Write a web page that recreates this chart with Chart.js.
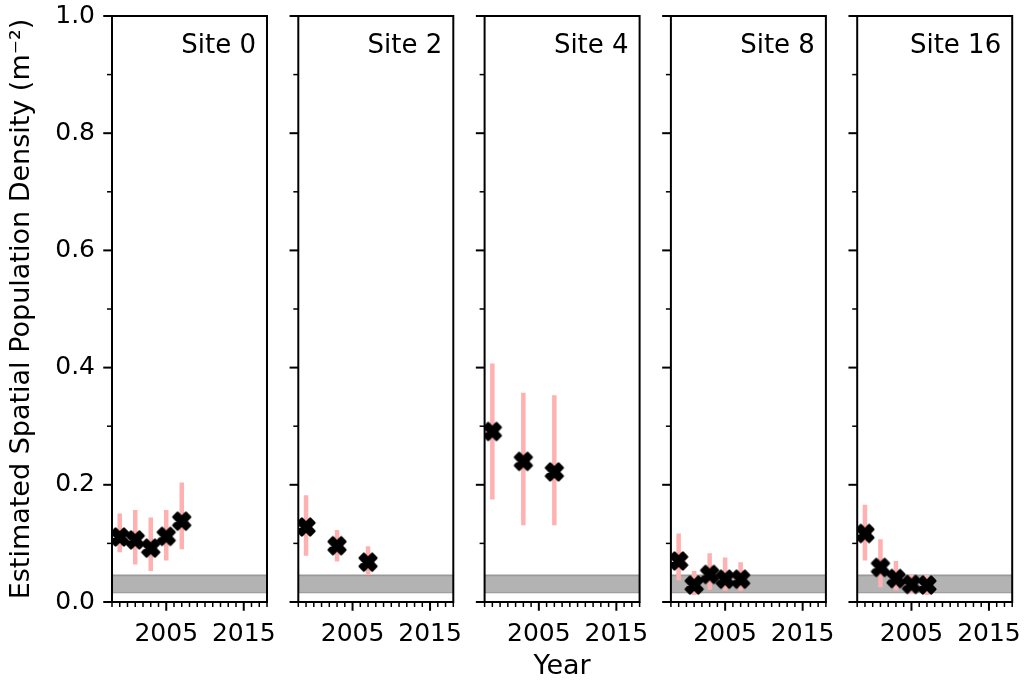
<!DOCTYPE html>
<html>
<head>
<meta charset="utf-8">
<script src="https://cdn.jsdelivr.net/npm/chart.js@4.4.1/dist/chart.umd.min.js"></script>
<style>
  html, body { margin: 0; padding: 0; background: #ffffff; }
  #wrap { position: relative; width: 1025px; height: 688px; overflow: hidden; background: #ffffff; }
  #wrap canvas { position: absolute; left: 0; top: 0; }
</style>
</head>
<body>
<div id="wrap"></div>
<script>
// ---- data -------------------------------------------------------------
const siteNames = ['Site 0', 'Site 2', 'Site 4', 'Site 8', 'Site 16'];

const site0Years   = [1999, 2001, 2003, 2005, 2007];
const site0Density = [0.111, 0.106, 0.092, 0.112, 0.138];
const site0Lower   = [0.085, 0.064, 0.053, 0.071, 0.090];
const site0Upper   = [0.151, 0.157, 0.144, 0.157, 0.204];

const site2Years   = [1999, 2003, 2007];
const site2Density = [0.128, 0.096, 0.068];
const site2Lower   = [0.079, 0.069, 0.046];
const site2Upper   = [0.182, 0.123, 0.095];

const site4Years   = [1999, 2003, 2007];
const site4Density = [0.291, 0.240, 0.222];
const site4Lower   = [0.175, 0.131, 0.131];
const site4Upper   = [0.407, 0.357, 0.353];

const site8Years   = [1999, 2001, 2003, 2005, 2007];
const site8Density = [0.070, 0.029, 0.047, 0.039, 0.039];
const site8Lower   = [0.037, 0.012, 0.021, 0.019, 0.019];
const site8Upper   = [0.117, 0.053, 0.083, 0.076, 0.068];

const site16Years   = [1999, 2001, 2003, 2005, 2007];
const site16Density = [0.117, 0.059, 0.040, 0.030, 0.029];
const site16Lower   = [0.071, 0.025, 0.020, 0.015, 0.012];
const site16Upper   = [0.166, 0.107, 0.070, 0.046, 0.046];

// shaded reference band (density range)
const bandLower = 0.0165;
const bandUpper = 0.0455;

// axis ranges and tick labels
const yearRange = [1998, 2018];
const yearTickLabels = [2005, 2015];
const densityTicks = [0.0, 0.2, 0.4, 0.6, 0.8, 1.0];
const densityMinorTicks = [0.1, 0.3, 0.5, 0.7, 0.9];

const sites = [
  { years: site0Years,  density: site0Density,  lower: site0Lower,  upper: site0Upper },
  { years: site2Years,  density: site2Density,  lower: site2Lower,  upper: site2Upper },
  { years: site4Years,  density: site4Density,  lower: site4Lower,  upper: site4Upper },
  { years: site8Years,  density: site8Density,  lower: site8Lower,  upper: site8Upper },
  { years: site16Years, density: site16Density, lower: site16Lower, upper: site16Upper },
];

// ---- layout -----------------------------------------------------------
const W = 1025, H = 688;
const PLOT_TOP = 16, PLOT_BOTTOM = 602;
const PANEL_LEFT0 = 112, PANEL_STEP = 186.3, PANEL_WIDTH = 155;
const FONT = '"DejaVu Sans", "Liberation Sans", sans-serif';
const TICK_SIZE = 25;
const LABEL_SIZE = 27;
const SITE_SIZE = 26;

// filled "X" marker with a rounded black edge
function makeXMarker() {
  const s = 24;
  const c = document.createElement('canvas');
  c.width = s; c.height = s;
  const g = c.getContext('2d');
  const pts = [[-1,-2],[0,-1],[1,-2],[2,-1],[1,0],[2,1],[1,2],[0,1],[-1,2],[-2,1],[-1,0],[-2,-1]];
  const k = 4.15;
  g.beginPath();
  pts.forEach((p, i) => {
    const px = s / 2 + p[0] * k, py = s / 2 + p[1] * k;
    if (i === 0) g.moveTo(px, py); else g.lineTo(px, py);
  });
  g.closePath();
  g.fillStyle = '#000';
  g.fill();
  g.lineJoin = 'round';
  g.lineWidth = 2.6;
  g.strokeStyle = '#000';
  g.stroke();
  return c;
}
const xMarker = makeXMarker();

// frame, tick marks and site label drawn from the chart's own scales
const panelDecor = {
  id: 'panelDecor',
  afterDatasetsDraw(chart, args, opts) {
    const { ctx, chartArea: a, scales: { x, y } } = chart;
    ctx.save();
    ctx.strokeStyle = '#000';
    for (let yr = yearRange[0]; yr <= yearRange[1]; yr++) {
      const major = yearTickLabels.includes(yr);
      const px = x.getPixelForValue(yr);
      ctx.lineWidth = major ? 2 : 1.5;
      ctx.beginPath();
      ctx.moveTo(px, a.bottom);
      ctx.lineTo(px, a.bottom + (major ? 8.75 : 5));
      ctx.stroke();
    }
    densityTicks.forEach(v => {
      const py = y.getPixelForValue(v);
      ctx.lineWidth = 2;
      ctx.beginPath(); ctx.moveTo(a.left, py); ctx.lineTo(a.left - 8.75, py); ctx.stroke();
    });
    densityMinorTicks.forEach(v => {
      const py = y.getPixelForValue(v);
      ctx.lineWidth = 1.5;
      ctx.beginPath(); ctx.moveTo(a.left, py); ctx.lineTo(a.left - 5, py); ctx.stroke();
    });
    ctx.lineWidth = 2;
    ctx.strokeRect(a.left, a.top, a.right - a.left, a.bottom - a.top);
    ctx.font = SITE_SIZE + 'px ' + FONT;
    ctx.fillStyle = '#000';
    ctx.textAlign = 'right';
    ctx.textBaseline = 'alphabetic';
    ctx.fillText(opts.label, a.right - 11, a.top + 37);
    ctx.restore();
  }
};

const wrap = document.getElementById('wrap');

sites.forEach((site, i) => {
  const canvas = document.createElement('canvas');
  canvas.width = W; canvas.height = H;
  wrap.appendChild(canvas);

  const left = PANEL_LEFT0 + i * PANEL_STEP;
  const right = left + PANEL_WIDTH;
  const first = i === 0;
  const middle = i === 2;

  const points = site.years.map((yr, j) => ({ x: yr, y: site.density[j] }));
  const bars = [];
  site.years.forEach((yr, j) => {
    bars.push({ x: yr, y: site.lower[j] }, { x: yr, y: site.upper[j] }, { x: yr, y: null });
  });

  new Chart(canvas, {
    type: 'line',
    data: {
      datasets: [
        {
          data: points,
          showLine: false,
          pointStyle: xMarker,
          pointRadius: 9,
          order: 1
        },
        {
          data: bars,
          borderColor: '#ffb0b0',
          borderWidth: 4.5,
          borderCapStyle: 'butt',
          pointRadius: 0,
          spanGaps: false,
          fill: false,
          order: 2
        },
        {
          data: [{ x: yearRange[0], y: bandUpper }, { x: yearRange[1], y: bandUpper }],
          borderColor: '#999999',
          borderWidth: 1.8,
          backgroundColor: '#b3b3b3',
          pointRadius: 0,
          fill: '+1',
          order: 3
        },
        {
          data: [{ x: yearRange[0], y: bandLower }, { x: yearRange[1], y: bandLower }],
          borderColor: '#999999',
          borderWidth: 1.8,
          pointRadius: 0,
          fill: false,
          order: 3
        }
      ]
    },
    options: {
      responsive: false,
      animation: false,
      devicePixelRatio: 1,
      events: [],
      layout: { padding: { left: 0, right: W - right, top: PLOT_TOP, bottom: 0 } },
      plugins: {
        legend: { display: false },
        tooltip: { enabled: false },
        panelDecor: { label: siteNames[i] }
      },
      scales: {
        x: {
          type: 'linear',
          min: yearRange[0],
          max: yearRange[1],
          grid: { display: false, drawTicks: false },
          border: { display: false },
          afterBuildTicks: s => { s.ticks = yearTickLabels.map(v => ({ value: v })); },
          afterFit: s => {
            s.height = H - PLOT_BOTTOM;
            s.paddingLeft = 0; s.paddingRight = 0;
          },
          ticks: {
            autoSkip: false,
            maxRotation: 0,
            padding: 17,
            color: '#000',
            font: { family: FONT, size: TICK_SIZE },
            callback: v => String(v)
          },
          title: {
            display: middle,
            text: 'Year',
            color: '#000',
            font: { family: FONT, size: LABEL_SIZE },
            padding: { top: 0, bottom: 5 }
          }
        },
        y: {
          type: 'linear',
          min: 0,
          max: 1,
          grid: { display: false, drawTicks: false },
          border: { display: false },
          afterFit: s => {
            s.width = left;
            s.paddingTop = 0; s.paddingBottom = 0;
          },
          ticks: {
            display: first,
            stepSize: 0.2,
            padding: 17,
            color: '#000',
            font: { family: FONT, size: TICK_SIZE },
            callback: v => Number(v).toFixed(1)
          },
          title: {
            display: first,
            text: 'Estimated Spatial Population Density (m⁻²)',
            color: '#000',
            font: { family: FONT, size: LABEL_SIZE },
            padding: { top: 6, bottom: 0 }
          }
        }
      }
    },
    plugins: [panelDecor]
  });
});
</script>
</body>
</html>
